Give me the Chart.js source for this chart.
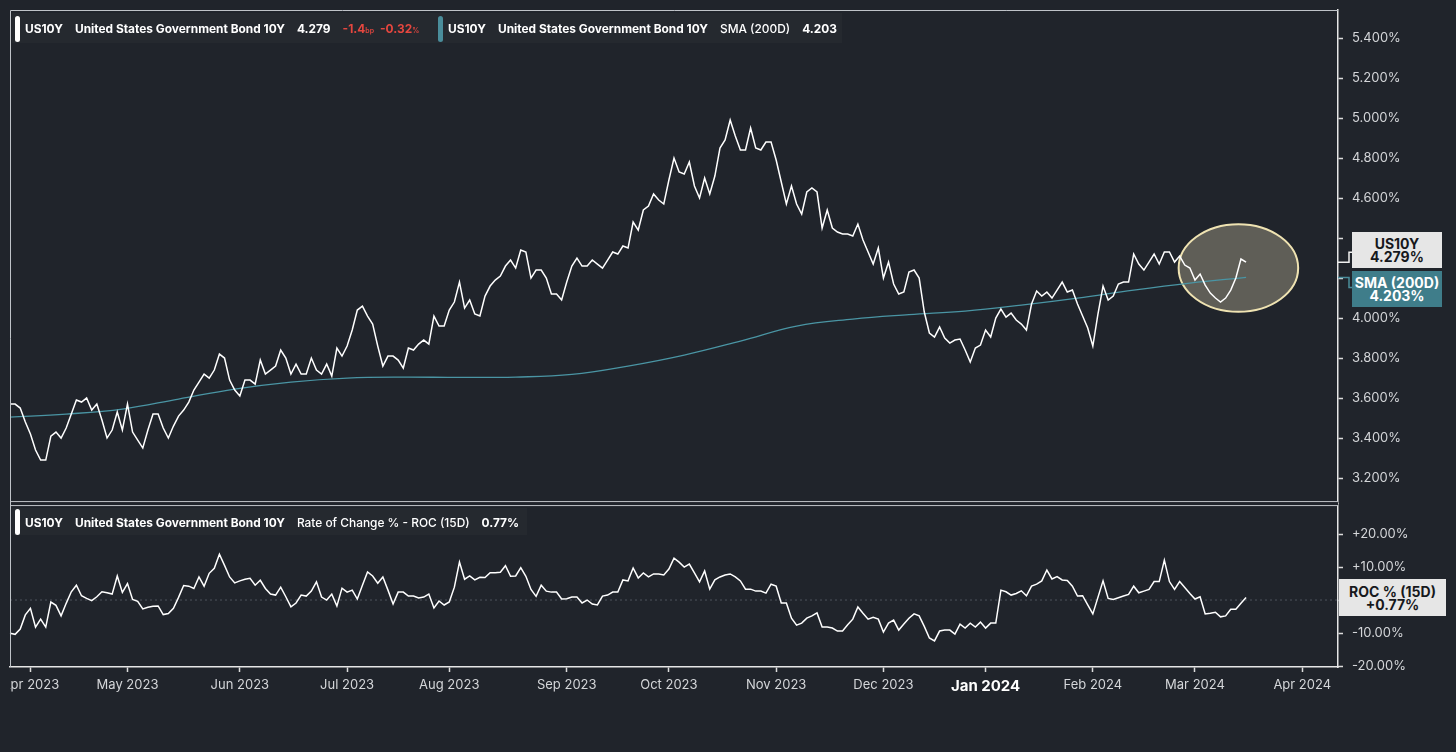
<!DOCTYPE html>
<html>
<head>
<meta charset="utf-8">
<title>US10Y</title>
<script src="https://cdn.jsdelivr.net/npm/chart.js@4.4.1/dist/chart.umd.min.js"></script>
<style>
  html, body { margin: 0; padding: 0; background: #20242b; }
  #wrap { position: relative; width: 1456px; height: 752px; overflow: hidden; font-family: Inter, "Noto Sans", sans-serif; }
  #chart { position: absolute; left: 0; top: 0; }
  .band { position: absolute; background: rgba(255,255,255,0.025); }
  .hdr { position: absolute; display: flex; align-items: center; gap: 12px; color: #fff; font-size: 11.9px; font-weight: 700; white-space: nowrap; }
  .mark { width: 5px; height: 26px; border-radius: 3px; background: #fff; margin-right: -7px; }
  .mark.teal { background: #4a8d9b; }
  .reg { font-weight: 500; }
  .red { color: #e5473f; }
  .red small { font-size: 7px; font-weight: 600; }
  .tight { margin-left: -6px; }
  .badge { position: absolute; display: flex; flex-direction: column; justify-content: center; align-items: center; font-weight: 700; font-size: 14px; line-height: 13px; }
</style>
</head>
<body>
<div id="wrap">
  <canvas id="chart" width="1456" height="752"></canvas>

  <div class="band" style="left:12px; top:13px; width:830px; height:30px;"></div>
  <div class="hdr" style="left:15px; top:15px; height:27px;">
    <span class="mark"></span><span>US10Y</span><span>United States Government Bond 10Y</span><span>4.279</span>
    <span class="red">-1.4<small>bp</small></span><span class="red tight">-0.32<small>%</small></span>
  </div>
  <div class="hdr" style="left:438px; top:15px; height:27px;">
    <span class="mark teal"></span><span>US10Y</span><span>United States Government Bond 10Y</span><span class="reg">SMA (200D)</span><span>4.203</span>
  </div>

  <div class="band" style="left:12px; top:508px; width:515px; height:27px;"></div>
  <div class="hdr" style="left:15px; top:509px; height:26px;">
    <span class="mark"></span><span>US10Y</span><span>United States Government Bond 10Y</span><span class="reg">Rate of Change % - ROC (15D)</span><span>0.77%</span>
  </div>

  <div class="badge" style="left:1352px; top:232px; width:90px; height:36px; background:#e6e6e6; color:#16181c;"><span>US10Y</span><span>4.279%</span></div>
  <div class="badge" style="left:1352px; top:271px; width:90px; height:36px; background:#3f7d8a; color:#ffffff;"><span>SMA (200D)</span><span>4.203%</span></div>
  <div class="badge" style="left:1339px; top:579px; width:107px; height:37px; background:#e6e6e6; color:#16181c;"><span>ROC % (15D)</span><span>+0.77%</span></div>
</div>

<script>
// trading days shown on the axis (weekends and bond-market holidays left out)
const firstDay = '2023-03-28';
const lastDay = '2024-04-10';
const holidays = ['2023-04-07', '2023-05-29', '2023-06-19', '2023-07-04', '2023-09-04', '2023-10-09',
                  '2023-11-23', '2023-12-25', '2024-01-01', '2024-01-15', '2024-02-19'];
const monthNames = ['Jan', 'Feb', 'Mar', 'Apr', 'May', 'Jun', 'Jul', 'Aug', 'Sep', 'Oct', 'Nov', 'Dec'];

// US10Y yield, daily, from 28 Mar 2023 to 15 Mar 2024
const price = [
  3.57, 3.57, 3.55, 3.48,
  3.42, 3.34, 3.29, 3.29, 3.41, 3.43, 3.40, 3.45, 3.52, 3.59,
  3.58, 3.60, 3.54, 3.57, 3.49, 3.40, 3.44, 3.53, 3.44,
  3.57, 3.43, 3.39, 3.35, 3.44, 3.52, 3.52, 3.45, 3.40, 3.46,
  3.51, 3.54, 3.58, 3.64, 3.68, 3.72, 3.70, 3.74, 3.82, 3.80,
  3.69, 3.64,
  3.61, 3.69, 3.69, 3.67, 3.79, 3.72, 3.74, 3.76, 3.84, 3.80,
  3.72, 3.77, 3.72, 3.72, 3.80, 3.74, 3.72, 3.77, 3.71, 3.85,
  3.81,
  3.86, 3.94, 4.04, 4.06, 4.01, 3.97, 3.86, 3.76, 3.81, 3.81,
  3.79, 3.75, 3.85, 3.84, 3.87, 3.89, 3.87, 4.01, 3.96, 3.96,
  4.04, 4.08, 4.18, 4.05, 4.09, 4.02, 4.01, 4.11, 4.16, 4.19,
  4.21, 4.26, 4.29, 4.25, 4.34, 4.33, 4.20, 4.24, 4.24, 4.20,
  4.12, 4.12, 4.09,
  4.18, 4.26, 4.30, 4.26, 4.26, 4.29, 4.27, 4.25, 4.29, 4.33,
  4.32, 4.36, 4.35, 4.48, 4.44, 4.54, 4.56, 4.62, 4.59, 4.57,
  4.69, 4.80, 4.73, 4.72, 4.78, 4.66, 4.60, 4.70, 4.62, 4.71,
  4.85, 4.89, 4.99, 4.91, 4.84, 4.84, 4.95, 4.85, 4.84, 4.88,
  4.88,
  4.79, 4.68, 4.57, 4.66, 4.57, 4.52, 4.63, 4.65, 4.63, 4.45,
  4.54, 4.45, 4.43, 4.42, 4.42, 4.41, 4.47, 4.39, 4.33, 4.27,
  4.35,
  4.20, 4.28, 4.17, 4.12, 4.13, 4.23, 4.24, 4.20, 4.03, 3.925,
  3.905, 3.955, 3.90, 3.875, 3.89, 3.895, 3.84, 3.78, 3.85, 3.865,
  3.94, 3.905, 4.00, 4.045, 4.005, 4.025, 3.99, 3.97, 3.94, 4.07,
  4.135, 4.11, 4.13, 4.10, 4.14, 4.18, 4.13, 4.14, 4.07, 4.01,
  3.95,
  3.86, 4.02, 4.16, 4.09, 4.11, 4.17, 4.18, 4.18, 4.32, 4.27,
  4.24, 4.28, 4.32, 4.27, 4.33, 4.33, 4.28, 4.31, 4.265, 4.25,
  4.19, 4.22, 4.165, 4.125, 4.10, 4.08, 4.10, 4.14, 4.20, 4.295,
  4.279
];

// 200-day simple moving average, read every 11th trading day
const smaStep = 11;
const sma = [3.505, 3.52, 3.545, 3.595, 3.645, 3.68, 3.70, 3.705, 3.703, 3.705, 3.718, 3.76,
             3.815, 3.885, 3.96, 3.995, 4.017, 4.035, 4.065, 4.10, 4.14, 4.175, 4.203];

// rate of change over 15 days, in %
const roc = [
  -10.1, -10.4, -8.8, -4.5, -2.5, -8.2, -5.8, -8.2, -0.6, -1.6,
  -4.8, -1.0, 2.5, 4.5, 1.3, 0.5, -0.2, 1.0, 2.5, 2.2,
  1.8, 7.3, 2.3, 5.0, 0.2, -0.4, -2.7, -2.2, -1.9, -1.8,
  -4.4, -4.1, -2.5, 0.8, 4.4, 4.2, 3.5, 7.0, 4.2, 8.1,
  9.6, 13.9, 10.5, 7.0, 5.2, 5.8, 6.3, 6.6, 4.5, 6.0,
  3.5, 1.8, 1.5, 3.9, 1.0, -2.1, -0.9, 1.5, 1.2, 2.7,
  5.5, 0.9, 0.0, 1.8, -1.8, 3.6, 2.4, 3.0, 0.3, 4.5,
  8.5, 7.3, 5.1, 7.0, 3.0, -1.2, 2.4, 2.4, 1.2, 1.2,
  0.6, 0.9, 1.8, -2.4, -0.3, -1.5, -0.6, 3.9, 11.5, 6.3,
  7.3, 6.1, 6.9, 6.8, 8.3, 8.3, 8.4, 10.4, 7.2, 7.3,
  9.8, 7.2, 3.2, 1.1, 4.5, 2.7, 2.4, 2.4, 0.3, 0.4,
  0.9, 0.9, -0.9, 0.0, -1.2, -1.5, 1.2, 1.5, 2.4, 2.4,
  6.1, 5.8, 9.7, 6.7, 8.2, 7.0, 7.9, 7.9, 7.6, 9.4,
  12.7, 11.5, 10.0, 10.9, 8.2, 5.5, 8.8, 3.3, 6.1, 7.0,
  7.6, 7.9, 7.0, 5.8, 3.3, 3.3, 2.7, 2.7, 2.1, 4.8,
  4.2, -0.9, -0.9, -5.5, -7.6, -7.0, -5.5, -4.8, -3.9, -8.2,
  -8.2, -8.5, -9.4, -9.4, -7.5, -5.8, -2.1, -4.0, -5.8, -5.2,
  -5.8, -9.7, -7.0, -6.1, -9.1, -7.3, -5.5, -4.2, -4.8, -8.0,
  -11.5, -12.4, -9.4, -9.1, -9.1, -10.3, -7.3, -8.5, -7.0, -8.2,
  -6.7, -8.5, -7.0, -7.0, 3.0, 2.5, 1.5, 2.0, 2.8, 1.3,
  4.2, 4.8, 5.8, 9.1, 6.4, 7.1, 6.1, 5.9, 4.2, 1.2,
  1.3, -1.5, -4.2, 0.8, 5.8, 0.5, 0.2, 0.7, 1.2, 1.7,
  4.2, 2.2, 2.7, 3.2, 5.6, 5.6, 12.1, 5.6, 3.2, 5.6,
  3.8, 2.0, 0.3, 1.0, -4.2, -4.0, -3.7, -5.1, -4.8, -2.8,
  -2.8, -1.0, 0.77
];

const priceTicks = [3.2, 3.4, 3.6, 3.8, 4.0, 4.2, 4.4, 4.6, 4.8, 5.0, 5.2, 5.4];
const rocTicks = [-20, -10, 0, 10, 20];

// highlighted area around the latest move: centre (day index, yield) and half sizes
const highlight = { index: 240.5, value: 4.25, halfDays: 11.7, halfValue: 0.219 };

const bg = '#20242b';
const tickColor = '#d4d6d9';
const frameColor = '#bfc3c8';

function tradingDays(from, to, skip) {
  const out = [];
  const d = new Date(from + 'T00:00:00Z');
  const end = new Date(to + 'T00:00:00Z');
  while (d <= end) {
    const iso = d.toISOString().slice(0, 10);
    const wd = d.getUTCDay();
    if (wd !== 0 && wd !== 6 && !skip.includes(iso)) out.push(iso);
    d.setUTCDate(d.getUTCDate() + 1);
  }
  return out;
}

const days = tradingDays(firstDay, lastDay, holidays);
const monthStarts = [];
days.forEach((d, i) => { if (i > 0 && d.slice(5, 7) !== days[i - 1].slice(5, 7)) monthStarts.push(i); });

const smaSeries = price.map(() => null);
sma.forEach((v, i) => { smaSeries[i * smaStep] = v; });

function isJan(c) {
  return c.tick && days[c.tick.value] && days[c.tick.value].slice(5, 7) === '01';
}

// no extra room for half labels at the ends of each axis
function noPad(s) {
  s.paddingTop = 0; s.paddingBottom = 0; s.paddingLeft = 0; s.paddingRight = 0;
}

const decor = {
  id: 'decor',
  beforeDatasetsDraw(chart) {
    const { ctx, chartArea: a, scales } = chart;
    const x = scales.x, y = scales.y, r = scales.y2;
    ctx.save();
    // zero line of the ROC pane
    const z = r.getPixelForValue(0);
    ctx.strokeStyle = '#4e545e';
    ctx.lineWidth = 1;
    ctx.setLineDash([2, 3]);
    ctx.beginPath(); ctx.moveTo(a.left, z); ctx.lineTo(a.right, z); ctx.stroke();
    ctx.setLineDash([]);
    // highlight ellipse
    const cx = x.getPixelForValue(highlight.index);
    const cy = y.getPixelForValue(highlight.value);
    const rx = x.getPixelForValue(highlight.index + highlight.halfDays) - cx;
    const ry = cy - y.getPixelForValue(highlight.value + highlight.halfValue);
    ctx.beginPath();
    ctx.ellipse(cx, cy, rx, ry, 0, 0, Math.PI * 2);
    ctx.fillStyle = 'rgba(242,230,188,0.30)';
    ctx.fill();
    ctx.strokeStyle = '#efe3b2';
    ctx.lineWidth = 2;
    ctx.stroke();
    ctx.restore();
  },
  afterDraw(chart) {
    const { ctx, chartArea: a, scales } = chart;
    const y = scales.y;
    const split = y.bottom;
    ctx.save();
    // gap between the two panes
    ctx.fillStyle = bg;
    ctx.fillRect(a.left, split - 1.5, a.right - a.left, 3);
    ctx.strokeStyle = frameColor;
    ctx.lineWidth = 1;
    ctx.beginPath();
    ctx.moveTo(a.left + 0.5, a.bottom); ctx.lineTo(a.left + 0.5, a.top + 0.5); ctx.lineTo(a.right, a.top + 0.5);
    ctx.moveTo(a.left, split - 2); ctx.lineTo(a.right, split - 2);
    ctx.moveTo(a.left, split + 2); ctx.lineTo(a.right, split + 2);
    ctx.stroke();
    // clip the first month label at the frame
    ctx.fillStyle = bg;
    ctx.fillRect(0, a.bottom + 1, a.left, chart.height - a.bottom);
    // connectors from the axis to the value badges
    const py = y.getPixelForValue(price[price.length - 1]);
    ctx.lineWidth = 1.5;
    ctx.strokeStyle = '#f0f0f0';
    ctx.beginPath();
    ctx.moveTo(a.right, py); ctx.lineTo(a.right + 11, py); ctx.lineTo(a.right + 11, py - 10); ctx.lineTo(a.right + 14, py - 10);
    ctx.stroke();
    const sy = y.getPixelForValue(sma[sma.length - 1]);
    ctx.strokeStyle = '#4a8d9b';
    ctx.beginPath();
    ctx.moveTo(a.right, sy); ctx.lineTo(a.right + 11, sy); ctx.lineTo(a.right + 11, sy + 10); ctx.lineTo(a.right + 14, sy + 10);
    ctx.stroke();
    ctx.restore();
  }
};

Chart.defaults.font.family = 'Inter, "Noto Sans", sans-serif';

new Chart(document.getElementById('chart').getContext('2d'), {
  type: 'line',
  data: {
    labels: days,
    datasets: [
      { label: 'US10Y', data: price, yAxisID: 'y', borderColor: '#ffffff', borderWidth: 1.5, pointRadius: 0, tension: 0 },
      { label: 'SMA (200D)', data: smaSeries, yAxisID: 'y', borderColor: '#4a95a4', borderWidth: 1.3, pointRadius: 0, tension: 0.4, spanGaps: true },
      { label: 'ROC % (15D)', data: roc, yAxisID: 'y2', borderColor: '#ffffff', borderWidth: 1.5, pointRadius: 0, tension: 0 }
    ]
  },
  options: {
    responsive: false,
    animation: false,
    layout: { padding: { left: 10, top: 10, right: 0, bottom: 0 } },
    plugins: { legend: { display: false }, tooltip: { enabled: false } },
    scales: {
      x: {
        type: 'category',
        afterBuildTicks: (s) => { s.ticks = monthStarts.map(i => ({ value: i })); },
        afterFit: (s) => { s.height = 85; noPad(s); },
        ticks: {
          autoSkip: false, maxRotation: 0, padding: 5,
          callback: (v) => { const d = days[v]; return monthNames[+d.slice(5, 7) - 1] + ' ' + d.slice(0, 4); },
          color: (c) => isJan(c) ? '#ffffff' : tickColor,
          font: (c) => isJan(c) ? { size: 15, weight: 'bold' } : { size: 13 }
        },
        grid: { drawOnChartArea: false, tickLength: 5, tickColor: '#dcdcdc', tickWidth: 1.5 },
        border: { color: '#e6e6e6', width: 1.5 }
      },
      y: {
        position: 'right', stack: 'panes', stackWeight: 3.02,
        min: 3.0725, max: 5.54,
        afterBuildTicks: (s) => { s.ticks = priceTicks.map(v => ({ value: v })); },
        afterFit: (s) => { s.width = 118; noPad(s); },
        ticks: { padding: 9, color: tickColor, font: { size: 13 }, callback: (v) => v.toFixed(3) + '%' },
        grid: { drawOnChartArea: false, tickLength: 5, tickColor: '#dcdcdc', tickWidth: 1.5 },
        border: { color: '#e6e6e6', width: 1.5 }
      },
      y2: {
        position: 'right', stack: 'panes', stackWeight: 1,
        min: -20.3, max: 29.24,
        afterBuildTicks: (s) => { s.ticks = rocTicks.map(v => ({ value: v })); },
        afterFit: (s) => { s.width = 118; noPad(s); },
        ticks: { padding: 9, color: tickColor, font: { size: 13 }, callback: (v) => (v < 0 ? '' : '+') + v.toFixed(2) + '%' },
        grid: { drawOnChartArea: false, tickLength: 5, tickColor: '#dcdcdc', tickWidth: 1.5 },
        border: { color: '#e6e6e6', width: 1.5 }
      }
    }
  },
  plugins: [decor]
});
</script>
</body>
</html>
